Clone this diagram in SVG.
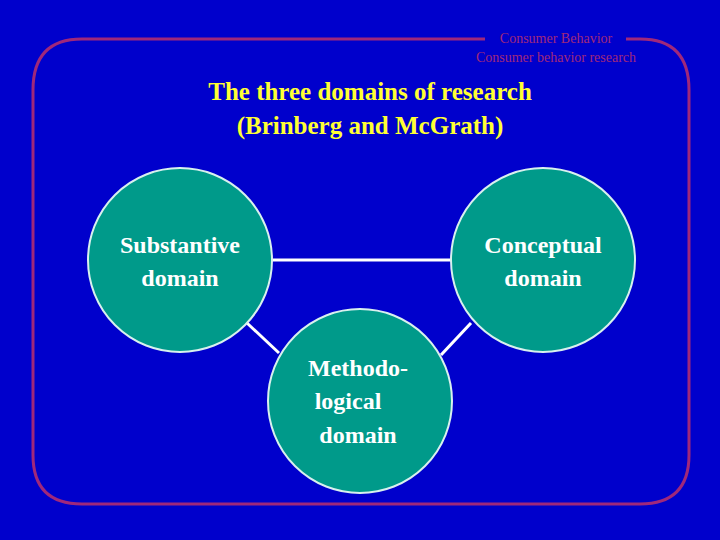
<svg xmlns="http://www.w3.org/2000/svg" width="720" height="540" viewBox="0 0 720 540">
<style>
.c{fill:#009a8a;stroke:#d8f0ee;stroke-width:2}
.t{font-family:"Liberation Serif",serif;font-weight:bold;font-size:24px;fill:#ffffff;text-anchor:middle}
.h{font-family:"Liberation Serif",serif;font-size:14px;fill:#a0287a;text-anchor:middle}
</style>
<rect width="720" height="540" fill="#0000cc"/>
<path d="M485,39 H82 Q33,39 33,90 V455 Q33,504 82,504 H640 Q689,504 689,455 V90 Q689,39 640,39 H626" fill="none" stroke="#a0287a" stroke-width="3"/>
<text class="h" x="556" y="43">Consumer Behavior</text>
<text class="h" x="556" y="62">Consumer behavior research</text>
<text x="370" y="100" font-family="Liberation Serif,serif" font-weight="bold" font-size="25" fill="#ffff33" text-anchor="middle">The three domains of research</text>
<text x="370" y="134" font-family="Liberation Serif,serif" font-weight="bold" font-size="25" fill="#ffff33" text-anchor="middle">(Brinberg and McGrath)</text>
<g id="connectors" stroke="#ffffff" stroke-width="3">
<line x1="272" y1="260" x2="451" y2="260"/>
<line x1="247" y1="323" x2="279" y2="353"/>
<line x1="471" y1="323" x2="441" y2="355"/>
</g>
<g id="substantive"><circle class="c" cx="180" cy="260" r="92"/><text class="t" x="180" y="253">Substantive</text><text class="t" x="180" y="286">domain</text></g>
<g id="conceptual"><circle class="c" cx="543" cy="260" r="92"/><text class="t" x="543" y="253">Conceptual</text><text class="t" x="543" y="286">domain</text></g>
<g id="methodological"><circle class="c" cx="360" cy="401" r="92"/><text class="t" x="358" y="376">Methodo-</text><text class="t" x="348" y="409">logical</text><text class="t" x="358" y="443">domain</text></g>
</svg>
